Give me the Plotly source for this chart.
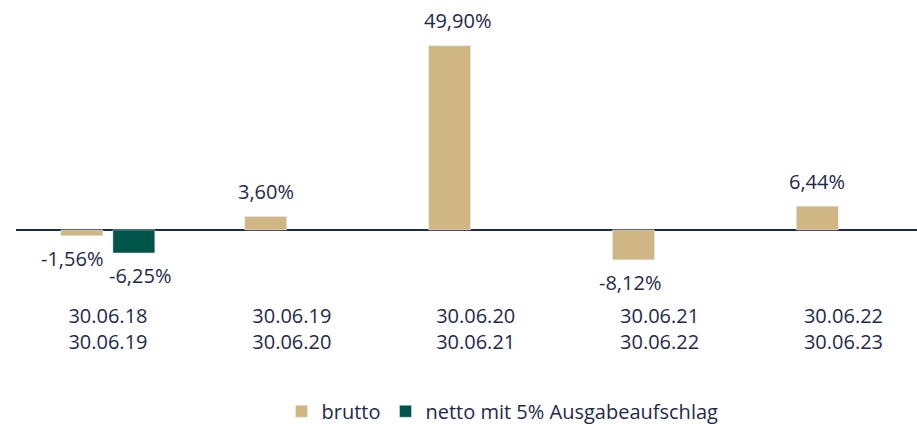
import plotly.graph_objects as go

categories = ["30.06.18<br>30.06.19", "30.06.19<br>30.06.20", "30.06.20<br>30.06.21",
              "30.06.21<br>30.06.22", "30.06.22<br>30.06.23"]
brutto = [-1.56, 3.60, 49.90, -8.12, 6.44]
netto_cats = ["30.06.18<br>30.06.19"]
netto = [-6.25]

TAN = "#CFB683"
GREEN = "#00554A"
NAVY = "#1E2A4C"
FONT = "Open Sans, Noto Sans, sans-serif"

brutto_label_dx = [-10, 0, 8, -3, 0]
netto_label_dx = [6]

def fmt(v):
    return f"{v:.2f}".replace(".", ",") + "%"

fig = go.Figure()
fig.add_bar(x=categories, y=brutto, name="brutto", marker_color=TAN,
            width=0.228, offset=-0.256, hoverinfo="skip")
fig.add_bar(x=netto_cats, y=netto, name="netto mit 5% Ausgabeaufschlag", marker_color=GREEN,
            width=0.228, offset=0.027, hoverinfo="skip")

annotations = []
for c, v, dx in zip(categories, brutto, brutto_label_dx):
    idx = categories.index(c)
    annotations.append(dict(x=idx - 0.256 + 0.114, y=v, xref="x", yref="y", text=fmt(v),
                            showarrow=False, yshift=25 if v >= 0 else -23, xshift=dx,
                            font=dict(size=20, color=NAVY, family=FONT)))
for c, v, dx in zip(netto_cats, netto, netto_label_dx):
    idx = categories.index(c)
    annotations.append(dict(x=idx + 0.027 + 0.114, y=v, xref="x", yref="y", text=fmt(v),
                            showarrow=False, yshift=-23, xshift=dx,
                            font=dict(size=20, color=NAVY, family=FONT)))

fig.update_layout(
    width=917, height=424,
    margin=dict(l=16, r=0, t=10, b=124, autoexpand=False),
    plot_bgcolor="white", paper_bgcolor="white",
    barmode="overlay",
    showlegend=True,
    legend=dict(orientation="h", xref="container", yref="container",
                x=0.307, xanchor="left", y=0.03, yanchor="middle",
                font=dict(size=20, color=NAVY, family=FONT), itemwidth=30,
                traceorder="normal"),
    xaxis=dict(type="category", range=[-0.5, 4.4], showline=False, showgrid=False,
               automargin=False, ticks="", ticklabelstandoff=2,
               tickfont=dict(size=20, color=NAVY, family=FONT)),
    yaxis=dict(range=[-19, 59.6], showgrid=False, showticklabels=False, ticks="",
               automargin=False,
               zeroline=True, zerolinecolor=NAVY, zerolinewidth=2, showline=False),
    annotations=annotations,
    font=dict(family=FONT, color=NAVY),
)

fig.write_html("out.html", config={"displayModeBar": False},
               post_script="document.body.style.margin='0';document.body.style.overflow='hidden';")
